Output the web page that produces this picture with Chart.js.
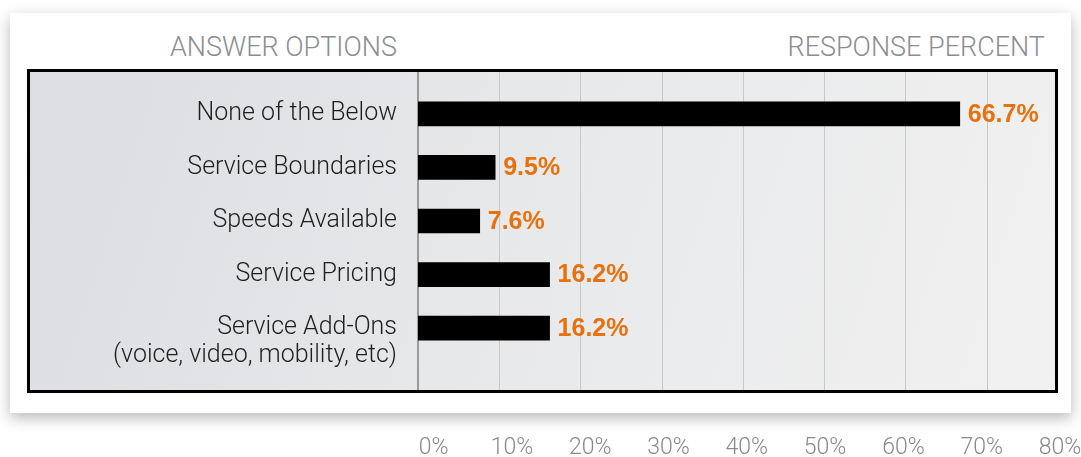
<!DOCTYPE html>
<html>
<head>
<meta charset="utf-8">
<script src="https://cdn.jsdelivr.net/npm/chart.js@4.4.1/dist/chart.umd.min.js"></script>
<style>
  html, body { margin: 0; padding: 0; background: #fff; }
  body { width: 1081px; height: 457px; position: relative; overflow: hidden; font-family: Roboto, "Liberation Sans", sans-serif; }
  #card { position: absolute; left: 10px; top: 13px; width: 1061px; height: 400px; background: #fff;
          box-shadow: 0 5px 14px rgba(0,0,0,0.28); }
  .hdr { position: absolute; top: 31px; font-size: 27px; font-weight: 300; color: #8b8e91; white-space: nowrap; line-height: 32px; }
  #hdrLeft { right: 684px; }
  #hdrRight { right: 36px; }
  #wrap { position: absolute; left: 0; top: 0; width: 1081px; height: 457px; }
</style>
</head>
<body>
<div id="card"></div>
<div class="hdr" id="hdrLeft">ANSWER OPTIONS</div>
<div class="hdr" id="hdrRight">RESPONSE PERCENT</div>
<div id="wrap"><canvas id="surveyChart" width="1081" height="457"></canvas></div>
<script>
// survey response bar chart

const categories = [
    'None of the Below',
    'Service Boundaries',
    'Speeds Available',
    'Service Pricing',
    ['Service Add-Ons', '(voice, video, mobility, etc)']
];
const responsePct = [66.7, 9.5, 7.6, 16.2, 16.2];
const gridValues = [10, 20, 30, 40, 50, 60, 70];
const tickValues = [0, 10, 20, 30, 40, 50, 60, 70, 80];

const ORANGE = '#e8710d';

// the framed panel behind the bars, with vertical grid lines from the x scale
const panelPlugin = {
    id: 'panel',
    beforeDraw(chart) {
        const ctx = chart.ctx;
        const x = chart.scales.x;
        const left = 27, right = 1058, top = 69, bottom = 393;
        ctx.save();
        const g = ctx.createLinearGradient(left, top, right, bottom);
        g.addColorStop(0, '#dcdde0');
        g.addColorStop(0.5, '#e8e9eb');
        g.addColorStop(1, '#f1f1f1');
        ctx.fillStyle = g;
        ctx.fillRect(left, top, right - left, bottom - top);
        ctx.strokeStyle = '#c9c9c9';
        ctx.lineWidth = 1;
        gridValues.forEach(v => {
            const px = Math.round(x.getPixelForValue(v)) + 0.5;
            ctx.beginPath();
            ctx.moveTo(px, top);
            ctx.lineTo(px, bottom);
            ctx.stroke();
        });
        ctx.strokeStyle = '#9a9a9a';
        ctx.lineWidth = 2;
        const x0 = x.getPixelForValue(0);
        ctx.beginPath();
        ctx.moveTo(x0, top);
        ctx.lineTo(x0, bottom);
        ctx.stroke();
        ctx.strokeStyle = '#000';
        ctx.lineWidth = 3;
        ctx.strokeRect(left + 1.5, top + 1.5, right - left - 3, bottom - top - 3);
        ctx.restore();
    },
    afterDatasetsDraw(chart) {
        const ctx = chart.ctx;
        const meta = chart.getDatasetMeta(0);
        ctx.save();
        ctx.font = 'bold 25px "Liberation Sans", Arial, sans-serif';
        ctx.fillStyle = ORANGE;
        ctx.textAlign = 'left';
        ctx.textBaseline = 'middle';
        meta.data.forEach((bar, i) => {
            ctx.fillText(responsePct[i].toFixed(1) + '%', bar.x + 8, bar.y + 1);
        });
        ctx.restore();
    }
};

const chart = new Chart(document.getElementById('surveyChart'), {
    type: 'bar',
    data: {
        labels: categories,
        datasets: [{
            data: responsePct,
            backgroundColor: '#000',
            borderWidth: 0,
            barThickness: 24,
            xAxisID: 'x',
            yAxisID: 'y'
        }]
    },
    options: {
        indexAxis: 'y',
        responsive: false,
        animation: false,
        layout: { padding: { left: 0, right: 23, top: 87, bottom: 0 } },
        plugins: {
            legend: { display: false },
            tooltip: { enabled: false }
        },
        scales: {
            x: {
                display: false,
                min: 0,
                max: 78.05
            },
            x2: {
                type: 'linear',
                position: 'bottom',
                min: -1.99,
                max: 78.97,
                // invisible tick marks push the labels down below the card
                grid: { display: true, color: 'transparent', drawOnChartArea: false, drawTicks: true, tickLength: 79 },
                border: { display: false },
                afterBuildTicks: s => { s.ticks = tickValues.map(v => ({ value: v })); },
                afterFit: s => { s.height = 102; },
                ticks: {
                    autoSkip: false,
                    maxRotation: 0,
                    padding: 0,
                    color: '#8a8a8a',
                    font: { family: 'Roboto', size: 23, weight: 300 },
                    callback: v => v + '%'
                }
            },
            y: {
                grid: { display: false, drawTicks: false },
                border: { display: false },
                afterFit: s => { s.width = 418; },
                ticks: {
                    autoSkip: false,
                    padding: 21,
                    color: '#1e1e1e',
                    font: { family: 'Roboto', size: 25, weight: 300, lineHeight: 1.1 },
                    callback: function (value) {
                        const lbl = this.getLabelForValue(value);
                        // keep the first line of a two-line label level with its bar
                        return Array.isArray(lbl) ? [''].concat(lbl) : lbl;
                    }
                }
            }
        }
    },
    plugins: [panelPlugin]
});
</script>
</body>
</html>
